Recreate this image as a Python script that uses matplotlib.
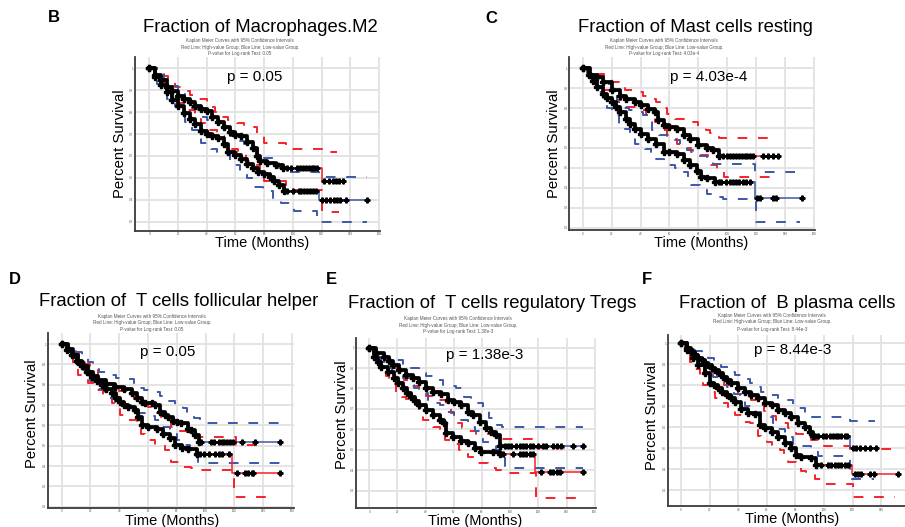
import numpy as np
import matplotlib
matplotlib.use('Agg')
import matplotlib.pyplot as plt

plt.rcParams['font.family'] = ['Liberation Sans', 'DejaVu Sans']

# ---------------- DATA ----------------
titles = ["Fraction of Macrophages.M2", "Fraction of Mast cells resting",
          "Fraction of  T cells follicular helper", "Fraction of  T cells regulatory Tregs",
          "Fraction of  B plasma cells"]
panel_letters = ["B", "C", "D", "E", "F"]
pvalues = ["0.05", "4.03e-4", "0.05", "1.38e-3", "8.44e-3"]
x_ticks = [0, 20, 40, 60, 80, 100, 120, 140, 160]
y_ticks_B = [0.3, 0.4, 0.5, 0.6, 0.7, 0.8, 0.9, 1.0]
y_ticks_C = [0.2, 0.3, 0.4, 0.5, 0.6, 0.7, 0.8, 0.9, 1.0]
y_ticks_D = [0.2, 0.3, 0.4, 0.5, 0.6, 0.7, 0.8, 0.9, 1.0]
y_ticks_E = [0.3, 0.4, 0.5, 0.6, 0.7, 0.8, 0.9, 1.0]
y_ticks_F = [0.3, 0.4, 0.5, 0.6, 0.7, 0.8, 0.9, 1.0]

# Panel B
B_hi_t = [0, 4, 8, 12, 16, 20, 24, 28, 32, 36, 40, 44, 48, 52, 56, 60, 64, 68, 72, 75, 77, 82, 88, 93, 120, 135]
B_hi_s = [1.0, 0.97, 0.945, 0.916, 0.895, 0.875, 0.86, 0.845, 0.83, 0.815, 0.805, 0.78, 0.755, 0.73, 0.71, 0.695, 0.69, 0.665, 0.635, 0.60, 0.575, 0.568, 0.558, 0.546, 0.483, 0.483]
B_hi_cens = [96, 99, 103, 105, 107, 109, 111, 113, 115, 117, 122, 125, 128, 130, 132, 135]
B_lo_t = [0, 4, 8, 12, 16, 20, 24, 28, 32, 36, 40, 44, 48, 52, 55, 60, 64, 68, 72, 76, 80, 84, 87, 90, 94, 118.5, 151.6]
B_lo_s = [1.0, 0.96, 0.925, 0.89, 0.855, 0.83, 0.795, 0.77, 0.745, 0.715, 0.70, 0.69, 0.68, 0.655, 0.62, 0.604, 0.585, 0.565, 0.543, 0.525, 0.515, 0.505, 0.483, 0.465, 0.44, 0.40, 0.40]
B_lo_cens = [96, 100, 104, 106, 108, 110, 112, 114, 116, 120, 123, 126, 129, 131, 133, 137, 151.6]
B_hi_up_t = [0, 4, 8, 13, 18, 24, 28, 34, 40, 46, 50, 55, 61, 66, 70, 75, 80, 95, 120, 131]
B_hi_up_s = [1.0, 0.99, 0.965, 0.94, 0.915, 0.895, 0.88, 0.862, 0.825, 0.80, 0.78, 0.764, 0.749, 0.74, 0.73, 0.70, 0.657, 0.632, 0.619, 0.619]
B_hi_lo_t = [0, 5, 10, 15, 20, 26, 32, 36, 42, 47, 52, 56, 62, 67, 72, 77, 80, 95, 120, 132]
B_hi_lo_s = [1.0, 0.95, 0.90, 0.87, 0.84, 0.81, 0.77, 0.75, 0.72, 0.69, 0.66, 0.63, 0.62, 0.577, 0.56, 0.52, 0.483, 0.445, 0.345, 0.345]
B_lo_up_t = [0, 5, 10, 15, 20, 25, 30, 34, 40, 46, 52, 56, 62, 66, 70, 76, 80, 86, 90, 95, 118, 152]
B_lo_up_s = [1.0, 0.975, 0.95, 0.92, 0.89, 0.86, 0.82, 0.78, 0.765, 0.75, 0.72, 0.69, 0.67, 0.655, 0.635, 0.60, 0.59, 0.57, 0.545, 0.525, 0.505, 0.505]
B_lo_lo_t = [0, 5, 8.5, 12, 18, 21, 25, 30, 36, 43, 47, 51, 56, 60, 63, 68, 73, 79, 86, 92, 101, 117, 152]
B_lo_lo_s = [1.0, 0.93, 0.90, 0.86, 0.83, 0.81, 0.755, 0.72, 0.66, 0.63, 0.62, 0.61, 0.575, 0.56, 0.53, 0.50, 0.46, 0.44, 0.40, 0.385, 0.35, 0.30, 0.30]

# Panel C
C_hi_t = [0, 5, 10, 14, 20, 26, 30, 36, 40, 45, 50, 52, 56, 60, 65, 70, 74, 80, 86, 90, 94, 135.4]
C_hi_s = [1.0, 0.967, 0.955, 0.93, 0.888, 0.86, 0.847, 0.83, 0.813, 0.797, 0.78, 0.738, 0.713, 0.705, 0.693, 0.663, 0.643, 0.617, 0.60, 0.588, 0.558, 0.558]
C_hi_cens = [97, 100, 102, 104, 106, 108, 110, 112, 114, 116, 118, 125, 128.5, 132, 135.4]
C_lo_t = [0, 4, 7, 10, 14, 17, 20, 23, 26, 30, 33, 36, 40, 45, 51, 56, 60, 65, 70, 74, 79, 82, 86, 91.6, 119, 151.6]
C_lo_s = [1.0, 0.963, 0.935, 0.905, 0.872, 0.85, 0.83, 0.805, 0.78, 0.747, 0.72, 0.697, 0.672, 0.647, 0.622, 0.58, 0.58, 0.572, 0.538, 0.513, 0.483, 0.455, 0.45, 0.43, 0.35, 0.35]
C_lo_cens = [94, 96, 99, 102, 104, 106, 108, 111, 113, 116, 120.4, 122.7, 132, 133.5, 151.6]
C_hi_up_t = [0, 5, 10, 15, 20, 25, 29, 37, 42, 47, 51, 55, 58, 64, 70, 74, 80, 85, 88, 92, 94, 135]
C_hi_up_s = [1.0, 0.985, 0.97, 0.95, 0.93, 0.91, 0.89, 0.88, 0.86, 0.845, 0.83, 0.80, 0.77, 0.747, 0.74, 0.73, 0.705, 0.69, 0.677, 0.66, 0.65, 0.65]
C_hi_lo_t = [0, 5, 10, 15, 20, 24, 28, 38, 44, 50, 53, 58, 61, 65, 70, 75, 81, 87, 93, 98, 135]
C_hi_lo_s = [1.0, 0.95, 0.92, 0.89, 0.86, 0.84, 0.805, 0.79, 0.763, 0.73, 0.69, 0.665, 0.647, 0.62, 0.60, 0.58, 0.567, 0.513, 0.49, 0.455, 0.455]
C_lo_up_t = [0, 5, 10, 15, 20, 24, 27, 32, 36, 42, 48, 53, 58, 62, 67, 72, 76, 80, 86, 90, 119, 152]
C_lo_up_s = [1.0, 0.985, 0.955, 0.92, 0.88, 0.83, 0.80, 0.79, 0.78, 0.763, 0.69, 0.663, 0.65, 0.64, 0.605, 0.59, 0.577, 0.56, 0.54, 0.52, 0.477, 0.477]
C_lo_lo_t = [0, 3, 6, 9, 11, 14, 17, 20, 25, 29, 33, 36, 43, 47, 50, 56, 64, 70, 73, 75, 81, 86, 90, 97, 120, 150]
C_lo_lo_s = [1.0, 0.96, 0.93, 0.91, 0.88, 0.847, 0.80, 0.765, 0.72, 0.697, 0.66, 0.622, 0.597, 0.57, 0.547, 0.513, 0.50, 0.48, 0.45, 0.413, 0.388, 0.37, 0.355, 0.343, 0.23, 0.23]

# Panel D
D_lo_t = [0, 4.6, 8, 11.6, 15, 18.5, 22, 25.5, 31, 37, 43, 48.6, 52, 55.5, 58, 62.5, 65, 68, 71.8, 74, 77.5, 80, 83, 88, 90, 92.6, 95.4, 151.6]
D_lo_s = [1.0, 0.974, 0.945, 0.913, 0.89, 0.864, 0.845, 0.823, 0.803, 0.79, 0.777, 0.757, 0.733, 0.716, 0.711, 0.708, 0.70, 0.667, 0.65, 0.64, 0.623, 0.618, 0.61, 0.58, 0.577, 0.552, 0.516, 0.516]
D_lo_cens = [97, 104, 106, 109, 111, 113, 114.5, 117, 119, 125, 134, 151.6]
D_hi_t = [0, 3.5, 7, 10.5, 14, 17.5, 21, 24.5, 27.8, 31, 34.7, 37.5, 40.5, 43.5, 46.3, 51, 53, 55.5, 60, 66, 70.6, 75, 78.7, 83.3, 88, 94, 118, 151.6]
D_hi_s = [1.0, 0.972, 0.946, 0.918, 0.89, 0.865, 0.84, 0.82, 0.80, 0.778, 0.757, 0.735, 0.716, 0.70, 0.69, 0.675, 0.64, 0.60, 0.593, 0.58, 0.56, 0.54, 0.503, 0.487, 0.482, 0.459, 0.367, 0.367]
D_hi_cens = [96, 99, 102, 106.5, 109, 111, 116, 121.5, 127, 129.6, 132, 133, 151.6]
D_lo_up_t = [0, 5, 10, 14, 18, 22, 26, 32, 38, 43, 50, 54, 57, 64, 68, 72, 79, 84, 87, 92, 96, 152]
D_lo_up_s = [1.0, 0.99, 0.96, 0.94, 0.913, 0.89, 0.864, 0.848, 0.835, 0.826, 0.803, 0.785, 0.774, 0.766, 0.745, 0.72, 0.70, 0.685, 0.667, 0.634, 0.613, 0.613]
D_lo_lo_t = [0, 5, 10, 15, 20, 25, 30, 34, 37, 42, 48, 54, 60, 65, 70, 75, 80, 84, 89, 93, 95, 152]
D_lo_lo_s = [1.0, 0.96, 0.92, 0.87, 0.82, 0.78, 0.75, 0.733, 0.716, 0.70, 0.68, 0.66, 0.646, 0.626, 0.59, 0.56, 0.53, 0.503, 0.487, 0.45, 0.413, 0.413]
D_hi_up_t = [0, 4, 8, 12, 16, 20, 25, 30, 35, 40, 45, 50, 55, 60, 66, 69, 76, 81, 87, 94, 121, 140]
D_hi_up_s = [1.0, 0.985, 0.96, 0.93, 0.90, 0.87, 0.84, 0.81, 0.79, 0.77, 0.75, 0.73, 0.71, 0.69, 0.66, 0.64, 0.593, 0.57, 0.56, 0.544, 0.503, 0.503]
D_hi_lo_t = [0, 4, 8, 11.6, 15, 18.5, 24, 29, 34.7, 38, 40.5, 46.3, 52, 55, 58, 64.8, 72, 76, 82, 90, 94, 120, 148]
D_hi_lo_s = [1.0, 0.95, 0.89, 0.85, 0.83, 0.807, 0.774, 0.733, 0.708, 0.68, 0.65, 0.626, 0.593, 0.56, 0.528, 0.503, 0.479, 0.42, 0.397, 0.39, 0.38, 0.25, 0.25]

# Panel E
E_lo_t = [0, 4.7, 10.7, 14, 16.6, 21.4, 26, 30.8, 35.6, 40.3, 45, 51, 55.8, 60.5, 65, 70, 73.5, 78.3, 83, 86.6, 90, 92.5, 151.8]
E_lo_s = [1.0, 0.972, 0.956, 0.935, 0.915, 0.89, 0.866, 0.853, 0.834, 0.80, 0.785, 0.772, 0.744, 0.736, 0.72, 0.687, 0.67, 0.635, 0.605, 0.589, 0.573, 0.519, 0.519]
E_lo_cens = [96, 98.5, 100.8, 104.4, 106.8, 109, 111.5, 113.9, 116.3, 119.8, 123.4, 125.7, 130.5, 132.9, 136.4, 144.7, 151.8]
E_hi_t = [0, 3.6, 6, 8.3, 13, 17.8, 20.5, 23.7, 26.5, 29.7, 32.5, 35.6, 40.3, 45, 50, 53.4, 54.6, 59.3, 65, 70, 74.7, 79.5, 87.8, 92.5, 117.4, 151.8]
E_hi_s = [1.0, 0.956, 0.93, 0.907, 0.883, 0.85, 0.825, 0.80, 0.78, 0.76, 0.74, 0.72, 0.695, 0.67, 0.646, 0.63, 0.58, 0.564, 0.543, 0.532, 0.507, 0.491, 0.488, 0.478, 0.39, 0.39]
E_hi_cens = [95, 102, 106.8, 109, 111.5, 113.9, 116.3, 122, 128, 130.5, 132.9, 135.2, 151.8]
E_lo_up_t = [0, 5, 10.7, 19, 24, 28.5, 35.6, 40, 45, 52, 57, 61.7, 67.6, 72, 74.7, 80.7, 85, 91, 94, 152]
E_lo_up_s = [1.0, 0.985, 0.956, 0.94, 0.92, 0.90, 0.875, 0.86, 0.84, 0.817, 0.81, 0.80, 0.76, 0.74, 0.727, 0.695, 0.654, 0.62, 0.613, 0.613]
E_lo_lo_t = [0, 4, 8, 12, 16, 20, 23.7, 28.5, 32, 35.6, 41.5, 46, 50, 54.6, 60, 64, 70, 74.7, 78, 80.7, 86, 90, 93.7, 96, 152]
E_lo_lo_s = [1.0, 0.96, 0.93, 0.90, 0.88, 0.86, 0.85, 0.817, 0.80, 0.776, 0.744, 0.73, 0.72, 0.687, 0.66, 0.646, 0.613, 0.59, 0.56, 0.54, 0.52, 0.50, 0.467, 0.413, 0.413]
E_hi_up_t = [0, 4, 8, 12, 16, 20, 25, 30, 35, 40, 45, 48.6, 54.6, 58, 60.5, 66, 70, 76, 90, 93.7, 118, 145]
E_hi_up_s = [1.0, 0.98, 0.95, 0.925, 0.90, 0.87, 0.84, 0.81, 0.785, 0.765, 0.75, 0.744, 0.71, 0.68, 0.63, 0.605, 0.59, 0.575, 0.56, 0.552, 0.507, 0.507]
E_hi_lo_t = [0, 3, 7, 12, 14, 19, 23, 26, 32, 35, 38, 45, 50, 54, 58, 64, 70, 74, 77, 84, 90, 94, 118, 150]
E_hi_lo_s = [1.0, 0.95, 0.90, 0.86, 0.82, 0.78, 0.76, 0.75, 0.72, 0.68, 0.646, 0.613, 0.59, 0.55, 0.53, 0.50, 0.467, 0.45, 0.434, 0.413, 0.40, 0.388, 0.263, 0.263]

# Panel F
F_lo_t = [0, 4, 7, 9.8, 12, 14.4, 17, 19, 21.5, 23.7, 26.5, 29.5, 32.5, 35.3, 40, 44.7, 49.3, 54, 58.6, 63.3, 68, 72.6, 77.2, 81.9, 86.5, 90, 92.3, 118, 136.5]
F_lo_s = [1.0, 0.976, 0.96, 0.944, 0.93, 0.92, 0.908, 0.897, 0.885, 0.873, 0.857, 0.84, 0.825, 0.81, 0.786, 0.77, 0.754, 0.738, 0.717, 0.706, 0.683, 0.667, 0.648, 0.622, 0.603, 0.579, 0.559, 0.50, 0.50]
F_lo_cens = [93.5, 95.8, 99.3, 101.6, 104, 106.3, 108.6, 109.8, 112, 114.4, 116, 120, 122.6, 125, 128.4, 131.9, 136.5]
F_hi_t = [0, 4, 8.6, 12, 16.7, 20, 23, 26, 29, 31.9, 35, 37.7, 42.3, 47, 51.6, 55, 58.6, 63.3, 68, 72.6, 77.2, 80.7, 84, 91, 94.7, 119.5, 151.6]
F_hi_s = [1.0, 0.968, 0.929, 0.897, 0.857, 0.813, 0.80, 0.786, 0.77, 0.754, 0.74, 0.722, 0.686, 0.67, 0.663, 0.611, 0.595, 0.579, 0.556, 0.524, 0.50, 0.468, 0.457, 0.452, 0.421, 0.378, 0.378]
F_hi_cens = [98, 102.8, 105, 107.4, 109.8, 112, 114.4, 116.7, 121.4, 123.7, 126, 131.9, 135.3, 151.6]
F_lo_up_t = [0, 5, 10, 14.4, 19, 23, 28, 33, 38, 42.3, 48, 52, 56, 63, 68, 72.6, 78.4, 82, 86.5, 91, 95, 118, 136]
F_lo_up_s = [1.0, 0.985, 0.965, 0.95, 0.93, 0.91, 0.886, 0.865, 0.85, 0.83, 0.81, 0.79, 0.77, 0.754, 0.74, 0.73, 0.706, 0.69, 0.67, 0.65, 0.648, 0.632, 0.632]
F_lo_lo_t = [0, 4, 8, 12, 16, 20, 22.5, 27, 32, 37, 41, 44.7, 52.8, 56, 58.6, 64.4, 68, 72.6, 78.4, 85, 91, 96, 118, 135]
F_lo_lo_s = [1.0, 0.96, 0.93, 0.90, 0.87, 0.85, 0.84, 0.825, 0.79, 0.76, 0.73, 0.70, 0.675, 0.66, 0.648, 0.62, 0.59, 0.556, 0.516, 0.51, 0.484, 0.463, 0.352, 0.352]
F_hi_up_t = [0, 4, 8, 12, 16, 20, 25, 30, 35, 40, 45, 49, 54, 58, 61, 66.7, 70, 75, 80.7, 86, 91, 95.8, 100, 118, 152]
F_hi_up_s = [1.0, 0.98, 0.95, 0.92, 0.89, 0.86, 0.83, 0.80, 0.78, 0.76, 0.745, 0.73, 0.706, 0.68, 0.654, 0.635, 0.62, 0.595, 0.57, 0.55, 0.54, 0.516, 0.511, 0.495, 0.495]
F_hi_lo_t = [0, 3, 6, 10, 13, 15.6, 20, 24, 27, 33, 37.7, 43.5, 48, 51.6, 54, 56, 60, 63.3, 69, 72, 75, 80.7, 84, 87.7, 93.5, 98, 120, 150]
F_hi_lo_s = [1.0, 0.95, 0.91, 0.88, 0.84, 0.80, 0.77, 0.74, 0.714, 0.69, 0.66, 0.627, 0.62, 0.60, 0.56, 0.54, 0.53, 0.516, 0.49, 0.46, 0.437, 0.405, 0.39, 0.378, 0.352, 0.33, 0.27, 0.27]

# ---------------- LAYOUT / STYLE ----------------
W, H = 905, 527
fig = plt.figure(figsize=(W / 100, H / 100), dpi=100)
RED = '#f5222a'
BLUE = '#3d58a8'
GRID = '#e2e2e2'


def fx(x):
    return x / W


def fy(y):
    return 1 - y / H


def step_val(t, s, x):
    idx = np.searchsorted(t, x, side='right') - 1
    return np.asarray(s)[idx]


def draw_curve(ax, t, s, cens, color):
    t = np.asarray(t, float)
    s = np.asarray(s, float)
    cens = np.asarray(cens, float)
    ax.step(t, s, where='post', color=color, lw=1.1, zorder=3)
    m = t < cens[0]
    tb = np.append(t[m], cens[0])
    sb = np.append(s[m], s[m][-1])
    ax.step(tb, sb, where='post', color='black', lw=2.7, zorder=4)
    ax.plot(t[m], s[m], ls='none', marker='P', ms=3.7, color='black', zorder=5)
    ax.plot(cens, step_val(t, s, cens), ls='none', marker='P', ms=3.5,
            color='black', zorder=5)


def draw_ci(ax, t, s, color):
    ax.step(t, s, where='post', color=color, lw=1.4, ls=(0, (5.0, 5.5)), zorder=2)


# geometry: left px, top px, width px, height px, xlim, ylim
geo = {
    'B': dict(l=135, top=57, w=245.4, h=173.5, xl=(-10, 161), yl=(0.259, 1.052)),
    'C': dict(l=569.3, top=56.7, w=246.1, h=173.3, xl=(-9.3, 161), yl=(0.189, 1.057)),
    'D': dict(l=47.7, top=333.3, w=245.8, h=174.4, xl=(-9.7, 161), yl=(0.195, 1.053)),
    'E': dict(l=356, top=338, w=240.1, h=170.3, xl=(-9.4, 161), yl=(0.214, 1.047)),
    'F': dict(l=667.7, top=335, w=243.5, h=171, xl=(-9.3, 161), yl=(0.225, 1.04)),
}
# text positions (px)
txt = {
    'B': dict(letter=(54, 18), title=(260.5, 32), sub=(240, [40.7, 47.3, 53.3]), p=(254.7, 76.7),
              ylab=(120, 144), xlab=(261.7, 243.5)),
    'C': dict(letter=(491.5, 18.5), title=(695.7, 31.7), sub=(664, [40.7, 47.3, 53.3]), p=(708.7, 76.5),
              ylab=(554, 144), xlab=(700.8, 243.5)),
    'D': dict(letter=(15, 279), title=(178.7, 306), sub=(151.7, [316.7, 322.7, 329.3]), p=(168, 352),
              ylab=(32, 414), xlab=(171.7, 520.5)),
    'E': dict(letter=(331, 279), title=(492, 308.5), sub=(458, [318.3, 325, 331.7]), p=(484.7, 355),
              ylab=(342, 415), xlab=(475, 521)),
    'F': dict(letter=(647, 279), title=(787, 307.5), sub=(771.7, [315, 321.7, 329.3]), p=(792.7, 350),
              ylab=(652, 416), xlab=(791.7, 519)),
}

panels = {
    'B': (B_hi_t, B_hi_s, B_hi_cens, B_lo_t, B_lo_s, B_lo_cens,
          [(B_hi_up_t, B_hi_up_s), (B_hi_lo_t, B_hi_lo_s)], [(B_lo_up_t, B_lo_up_s), (B_lo_lo_t, B_lo_lo_s)], y_ticks_B),
    'C': (C_hi_t, C_hi_s, C_hi_cens, C_lo_t, C_lo_s, C_lo_cens,
          [(C_hi_up_t, C_hi_up_s), (C_hi_lo_t, C_hi_lo_s)], [(C_lo_up_t, C_lo_up_s), (C_lo_lo_t, C_lo_lo_s)], y_ticks_C),
    'D': (D_hi_t, D_hi_s, D_hi_cens, D_lo_t, D_lo_s, D_lo_cens,
          [(D_hi_up_t, D_hi_up_s), (D_hi_lo_t, D_hi_lo_s)], [(D_lo_up_t, D_lo_up_s), (D_lo_lo_t, D_lo_lo_s)], y_ticks_D),
    'E': (E_hi_t, E_hi_s, E_hi_cens, E_lo_t, E_lo_s, E_lo_cens,
          [(E_hi_up_t, E_hi_up_s), (E_hi_lo_t, E_hi_lo_s)], [(E_lo_up_t, E_lo_up_s), (E_lo_lo_t, E_lo_lo_s)], y_ticks_E),
    'F': (F_hi_t, F_hi_s, F_hi_cens, F_lo_t, F_lo_s, F_lo_cens,
          [(F_hi_up_t, F_hi_up_s), (F_hi_lo_t, F_hi_lo_s)], [(F_lo_up_t, F_lo_up_s), (F_lo_lo_t, F_lo_lo_s)], y_ticks_F),
}

for i, letter in enumerate(panel_letters):
    g = geo[letter]
    ax = fig.add_axes([fx(g['l']), fy(g['top'] + g['h']), g['w'] / W, g['h'] / H])
    ax.set_xlim(*g['xl'])
    ax.set_ylim(*g['yl'])
    hi_t, hi_s, hi_c, lo_t, lo_s, lo_c, hi_ci, lo_ci, yt = panels[letter]
    # keep only tick labels that fall inside the figure
    px_per = g['w'] / (g['xl'][1] - g['xl'][0])
    xt = [v for v in x_ticks if g['l'] + (v - g['xl'][0]) * px_per < W - 3]
    ax.set_xticks(xt)
    ax.set_yticks(yt)
    ax.set_yticklabels(['1' if v == 1.0 else f'{v:.1f}' for v in yt])
    ax.grid(True, color=GRID, lw=1.3)
    ax.set_axisbelow(True)
    for sp in ['top', 'right']:
        ax.spines[sp].set_visible(False)
    for sp in ['left', 'bottom']:
        ax.spines[sp].set_color('#3a3a3a')
        ax.spines[sp].set_linewidth(1.3)
    ax.tick_params(length=0, labelsize=2.2, labelcolor='#555555', pad=1.2)

    for (ct, cs) in hi_ci:
        draw_ci(ax, ct, cs, RED)
    for (ct, cs) in lo_ci:
        draw_ci(ax, ct, cs, BLUE)
    draw_curve(ax, hi_t, hi_s, hi_c, RED)
    draw_curve(ax, lo_t, lo_s, lo_c, BLUE)

    tp = txt[letter]
    fig.text(fx(tp['letter'][0]), fy(tp['letter'][1]), letter, fontsize=12, fontweight='bold',
             ha='center', va='center')
    fig.text(fx(tp['title'][0]), fy(tp['title'][1]), titles[i], fontsize=13.3,
             ha='center', va='baseline')
    sub_lines = ["Kaplan Meier Curves with 95% Confidence Intervals",
                 "Red Line: High-value Group; Blue Line: Low-value Group.",
                 "P-value for Log-rank Test: " + pvalues[i]]
    for line, yy in zip(sub_lines, tp['sub'][1]):
        fig.text(fx(tp['sub'][0]), fy(yy), line, fontsize=3.3, color='#555555',
                 ha='center', va='center')
    fig.text(fx(tp['p'][0]), fy(tp['p'][1]), "p = " + pvalues[i], fontsize=11,
             ha='center', va='center')
    fig.text(fx(tp['ylab'][0]), fy(tp['ylab'][1]), "Percent Survival", fontsize=10.7,
             rotation=90, ha='center', va='center')
    fig.text(fx(tp['xlab'][0]), fy(tp['xlab'][1]), "Time (Months)", fontsize=10.5,
             ha='center', va='center')

fig.savefig('out.png', dpi=100)
